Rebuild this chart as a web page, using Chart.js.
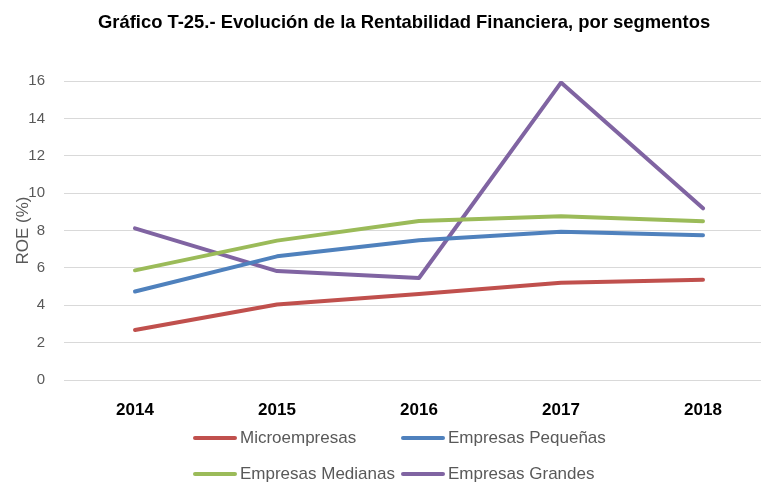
<!DOCTYPE html>
<html>
<head>
<meta charset="utf-8">
<script src="https://cdn.jsdelivr.net/npm/chart.js@4/dist/chart.umd.min.js"></script>
<style>
  html, body { margin: 0; padding: 0; background: #fff; overflow: hidden; width: 761px; height: 484px; }
  #wrap { position: absolute; left: 0; top: 0; width: 776px; height: 484px; }
  #legend { position: absolute; left: 0; top: 0; width: 761px; height: 484px; pointer-events: none;
            font-family: "Liberation Sans", Arial, sans-serif; font-size: 17px; color: #595959; }
  .item { position: absolute; display: flex; align-items: center; height: 20px; }
  .swatch { width: 44px; height: 4px; border-radius: 2px; margin-right: 3px; }
</style>
</head>
<body>
<div id="wrap"><canvas id="c" width="776" height="484"></canvas></div>
<div id="legend"></div>
<script>
const years = ["2014", "2015", "2016", "2017", "2018"];
const microempresas = [2.68, 4.04, 4.60, 5.20, 5.36];
const pequenas = [4.74, 6.62, 7.48, 7.93, 7.75];
const medianas = [5.87, 7.46, 8.51, 8.77, 8.50];
const grandes = [8.12, 5.83, 5.46, 15.92, 9.19];
const seriesNames = ["Microempresas", "Empresas Pequeñas", "Empresas Medianas", "Empresas Grandes"];
const seriesColors = ["#C0504D", "#4F81BD", "#9BBB59", "#8064A2"];
const yTicks = [0, 2, 4, 6, 8, 10, 12, 14, 16];

const seriesData = [microempresas, pequenas, medianas, grandes];
const datasets = seriesNames.map((n, i) => ({
  label: n,
  data: seriesData[i],
  borderColor: seriesColors[i],
  backgroundColor: seriesColors[i],
  borderWidth: 4,
  pointRadius: 0,
  pointHoverRadius: 0,
  tension: 0,
  fill: false,
  borderCapStyle: 'round',
  borderJoinStyle: 'round'
}));

new Chart(document.getElementById('c'), {
  type: 'line',
  data: { labels: years, datasets: datasets },
  options: {
    responsive: false,
    animation: false,
    devicePixelRatio: 1,
    layout: { padding: { left: 13, right: 2, top: 0, bottom: 64 } },
    plugins: {
      legend: { display: false },
      tooltip: { enabled: false },
      title: {
        display: true,
        text: "Gráfico T-25.- Evolución de la Rentabilidad Financiera, por segmentos",
        color: "#000000",
        font: { family: "Liberation Sans", size: 18.4, weight: 'bold' },
        padding: { top: 12, bottom: 47 },
        align: 'start',
        fullSize: false
      }
    },
    scales: {
      x: {
        offset: true,
        grid: { display: false },
        border: { display: false },
        ticks: { color: "#000000", font: { family: "Liberation Sans", size: 17, weight: 'bold' }, padding: 12, maxRotation: 0 },
        afterFit: (s) => { s.height = 40; }
      },
      y: {
        min: 0, max: 16,
        afterBuildTicks: (s) => { s.ticks = yTicks.map(v => ({ value: v })); },
        grid: { color: "#D9D9D9", lineWidth: 1, drawTicks: false },
        border: { display: false },
        ticks: { color: "#595959", font: { family: "Liberation Sans", size: 15 }, padding: 19 },
        title: { display: true, text: "ROE (%)", color: "#595959", font: { family: "Liberation Sans", size: 17 }, padding: { top: 0, bottom: 0 } },
        afterFit: (s) => { s.width = 51; }
      }
    }
  },
  plugins: [{
    id: 'titleCenter',
    beforeDraw(chart) {
      const t = chart.titleBlock;
      if (t) { t.left = 98; t.width = 620; t.right = 718; }
    }
  }]
});

// legend (HTML, fixed two-column grid like the original)
const legend = document.getElementById('legend');
const legendPos = [[193, 428], [401, 428], [193, 464], [401, 464]];
seriesNames.forEach((n, i) => {
  const d = document.createElement('div');
  d.className = 'item';
  d.style.left = legendPos[i][0] + 'px';
  d.style.top = legendPos[i][1] + 'px';
  const sw = document.createElement('span');
  sw.className = 'swatch';
  sw.style.background = seriesColors[i];
  const tx = document.createElement('span');
  tx.textContent = n;
  d.appendChild(sw); d.appendChild(tx);
  legend.appendChild(d);
});
</script>
</body>
</html>
